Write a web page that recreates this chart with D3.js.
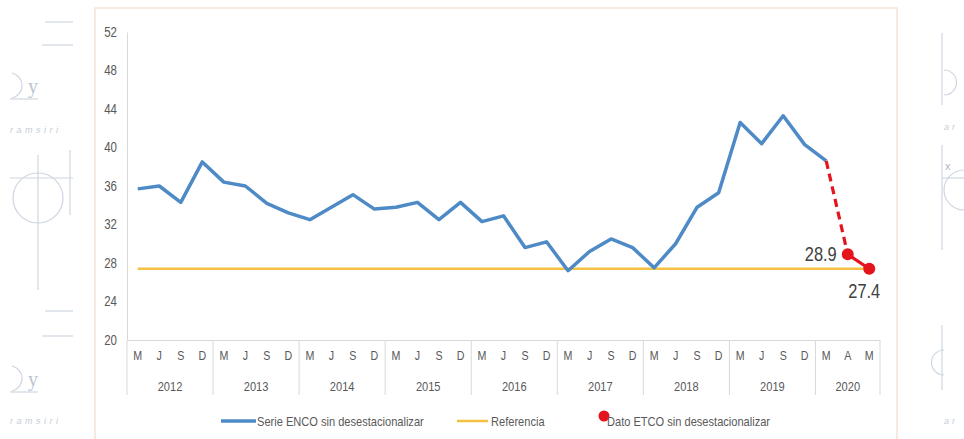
<!DOCTYPE html>
<html>
<head>
<meta charset="utf-8">
<script src="https://cdn.jsdelivr.net/npm/d3@7"></script>
<style>
  body { margin: 0; background: #ffffff; }
  svg { display: block; font-family: "Liberation Sans", Arial, sans-serif; }
</style>
</head>
<body>
<svg id="chart" width="964" height="439"></svg>
<script>
// chart data
var years = ["2012", "2013", "2014", "2015", "2016", "2017", "2018", "2019", "2020"];
var quarterLabels = ["M", "J", "S", "D"];
var lastYearLabels = ["M", "A", "M"];
// Serie ENCO sin desestacionalizar, 2012 M .. 2020 M
var encoValues = [35.7, 36.0, 34.3, 38.5,
                  36.4, 36.0, 34.2, 33.2,
                  32.5, 33.8, 35.1, 33.6,
                  33.8, 34.3, 32.5, 34.3,
                  32.3, 32.9, 29.6, 30.2,
                  27.2, 29.2, 30.5, 29.6,
                  27.5, 30.0, 33.8, 35.3,
                  42.6, 40.4, 43.3, 40.3,
                  38.6];
// Dato ETCO sin desestacionalizar, 2020 A and 2020 M
var etcoValues = [28.9, 27.4];
var referenceValue = 27.4;
var yTicks = [20, 24, 28, 32, 36, 40, 44, 48, 52];
var legendNames = ["Serie ENCO sin desestacionalizar", "Referencia", "Dato ETCO sin desestacionalizar"];

var colours = {
    enco: "#4d8ac6",
    ref: "#f4c142",
    etco: "#e5131b",
    axis: "#d9d9d9",
    text: "#595959"
};

// the original uses a narrow font, squeeze the glyphs a bit
function narrow(sel, k) {
    sel.each(function () {
        var len = this.getComputedTextLength();
        d3.select(this)
            .attr("textLength", len * (k || 0.82))
            .attr("lengthAdjust", "spacingAndGlyphs");
    });
}

// build the category list (one per quarter, year groups underneath)
var categories = [];
years.forEach(function (yr) {
    var labels = yr === "2020" ? lastYearLabels : quarterLabels;
    labels.forEach(function (l) {
        categories.push({ year: yr, label: l });
    });
});

var svg = d3.select("#chart");

// faint background sketches around the chart box
var deco = svg.append("g")
    .attr("stroke", "#c3ccdb")
    .attr("fill", "none")
    .attr("stroke-width", 1.2)
    .attr("opacity", 0.8);

[[45, 22], [42, 45], [45, 311], [42, 336]].forEach(function (p) {
    deco.append("line").attr("x1", p[0]).attr("x2", 73).attr("y1", p[1]).attr("y2", p[1]);
});
[85, 378].forEach(function (cy) {
    deco.append("path").attr("d", "M12," + (cy - 12) + " A14,13 0 0 1 12," + (cy + 13));
    deco.append("line").attr("x1", 10).attr("x2", 38).attr("y1", cy + 14).attr("y2", cy + 14);
    deco.append("text").attr("x", 28).attr("y", cy + 8).attr("stroke", "none")
        .attr("fill", "#aab5c8").style("font-family", "Liberation Serif, serif")
        .style("font-size", "20px").text("y");
});
[130, 421].forEach(function (ty) {
    deco.append("text").attr("x", 10).attr("y", ty + 3).attr("stroke", "none")
        .attr("fill", "#b5bfd0").style("font-style", "italic")
        .style("font-size", "9px").style("letter-spacing", "3.5px").text("ramsiri");
});
deco.append("circle").attr("cx", 38).attr("cy", 198).attr("r", 25);
deco.append("line").attr("x1", 10).attr("x2", 73).attr("y1", 178).attr("y2", 178);
deco.append("line").attr("x1", 38).attr("x2", 38).attr("y1", 155).attr("y2", 290);
deco.append("line").attr("x1", 70).attr("x2", 70).attr("y1", 150).attr("y2", 215);
// right edge
deco.append("line").attr("x1", 942).attr("x2", 942).attr("y1", 33).attr("y2", 105);
deco.append("path").attr("d", "M944,70 A12,12 0 1 1 944,95");
deco.append("line").attr("x1", 942).attr("x2", 942).attr("y1", 145).attr("y2", 250);
deco.append("line").attr("x1", 942).attr("x2", 964).attr("y1", 178).attr("y2", 178);
deco.append("path").attr("d", "M964,170 A18,18 0 0 0 964,210");
deco.append("line").attr("x1", 942).attr("x2", 942).attr("y1", 325).attr("y2", 390);
deco.append("path").attr("d", "M944,350 A12,12 0 1 0 944,375");
[127, 421].forEach(function (ty) {
    deco.append("text").attr("x", 944).attr("y", ty + 3).attr("stroke", "none")
        .attr("fill", "#b5bfd0").style("font-style", "italic")
        .style("font-size", "9px").style("letter-spacing", "3px").text("ar");
});
deco.append("text").attr("x", 945).attr("y", 170).attr("stroke", "none")
    .attr("fill", "#9aa6ba").style("font-size", "11px").text("x");

// chart box
svg.append("rect")
    .attr("x", 95).attr("y", 8)
    .attr("width", 802).attr("height", 460)
    .attr("fill", "#ffffff")
    .attr("stroke", "#f3e2d7")
    .attr("stroke-width", 1.5);

// scales
var x = d3.scaleBand()
    .domain(d3.range(categories.length))
    .range([127, 880]);
var cx = function (i) { return x(i) + x.bandwidth() / 2; };

var y = d3.scaleLinear()
    .domain([20, 52])
    .range([340, 32]);

// y axis
var yAxis = svg.append("g")
    .attr("transform", "translate(127,0)")
    .call(d3.axisLeft(y).tickValues(yTicks).tickSize(0).tickPadding(10));
yAxis.select(".domain").attr("stroke", colours.axis);
yAxis.selectAll("text")
    .attr("fill", colours.text)
    .style("font-family", "Liberation Sans, sans-serif")
    .style("font-size", "14px")
    .call(narrow);

// x axis (quarter labels)
var xAxis = svg.append("g")
    .attr("transform", "translate(0,340)")
    .call(d3.axisBottom(x).tickSize(0).tickSizeOuter(0).tickPadding(11)
        .tickFormat(function (i) { return categories[i].label; }));
xAxis.select(".domain").attr("stroke", colours.axis);
xAxis.selectAll("text")
    .attr("fill", colours.text)
    .style("font-family", "Liberation Sans, sans-serif")
    .style("font-size", "13px")
    .call(narrow);

// year groups
var yearGroups = years.map(function (yr) {
    var idx = categories.map(function (c, i) { return c.year === yr ? i : -1; })
        .filter(function (i) { return i >= 0; });
    return { year: yr, start: idx[0], end: idx[idx.length - 1] };
});

svg.append("g").selectAll("line")
    .data(yearGroups.map(function (g) { return x(g.start); }).concat([x.range()[1]]))
    .enter().append("line")
    .attr("x1", function (d) { return d; })
    .attr("x2", function (d) { return d; })
    .attr("y1", 340)
    .attr("y2", 395)
    .attr("stroke", colours.axis);

svg.append("g").selectAll("text")
    .data(yearGroups)
    .enter().append("text")
    .attr("x", function (g) { return (x(g.start) + x(g.end) + x.bandwidth()) / 2; })
    .attr("y", 391)
    .attr("text-anchor", "middle")
    .attr("fill", colours.text)
    .style("font-size", "13.5px")
    .text(function (g) { return g.year; })
    .call(narrow);

// reference line
svg.append("line")
    .attr("x1", cx(0))
    .attr("x2", cx(categories.length - 1))
    .attr("y1", y(referenceValue))
    .attr("y2", y(referenceValue))
    .attr("stroke", colours.ref)
    .attr("stroke-width", 2.5);

// ENCO line
var line = d3.line()
    .x(function (d) { return cx(d[0]); })
    .y(function (d) { return y(d[1]); });

svg.append("path")
    .datum(encoValues.map(function (v, i) { return [i, v]; }))
    .attr("d", line)
    .attr("fill", "none")
    .attr("stroke", colours.enco)
    .attr("stroke-width", 3.5)
    .attr("stroke-linejoin", "round");

// ETCO: dashed jump from last ENCO value, then solid
var lastEnco = encoValues.length - 1;
var etcoPoints = etcoValues.map(function (v, i) { return [lastEnco + 1 + i, v]; });

svg.append("path")
    .datum([[lastEnco, encoValues[lastEnco]], etcoPoints[0]])
    .attr("d", line)
    .attr("fill", "none")
    .attr("stroke", colours.etco)
    .attr("stroke-width", 3.2)
    .attr("stroke-dasharray", "8,5");

svg.append("path")
    .datum(etcoPoints)
    .attr("d", line)
    .attr("fill", "none")
    .attr("stroke", colours.etco)
    .attr("stroke-width", 3.2);

svg.append("g").selectAll("circle")
    .data(etcoPoints)
    .enter().append("circle")
    .attr("cx", function (d) { return cx(d[0]); })
    .attr("cy", function (d) { return y(d[1]); })
    .attr("r", 6)
    .attr("fill", colours.etco);

// value labels
svg.append("text")
    .attr("x", cx(etcoPoints[0][0]) - 11)
    .attr("y", y(etcoPoints[0][1]))
    .attr("dy", "0.35em")
    .attr("text-anchor", "end")
    .attr("fill", "#404040")
    .style("font-size", "20px")
    .text(etcoPoints[0][1].toFixed(1))
    .call(narrow);

svg.append("text")
    .attr("x", cx(etcoPoints[1][0]) - 5)
    .attr("y", y(etcoPoints[1][1]) + 29)
    .attr("text-anchor", "middle")
    .attr("fill", "#404040")
    .style("font-size", "20px")
    .text(etcoPoints[1][1].toFixed(1))
    .call(narrow);

// legend
var legend = svg.append("g").attr("class", "legend");

legend.append("line")
    .attr("x1", 221).attr("x2", 256).attr("y1", 421).attr("y2", 421)
    .attr("stroke", colours.enco).attr("stroke-width", 3.5);
legend.append("line")
    .attr("x1", 457).attr("x2", 488).attr("y1", 421).attr("y2", 421)
    .attr("stroke", colours.ref).attr("stroke-width", 2.5);
legend.append("circle")
    .attr("cx", 604).attr("cy", 416).attr("r", 5.5)
    .attr("fill", colours.etco);

legend.selectAll("text")
    .data(legendNames)
    .enter().append("text")
    .attr("x", function (d, i) { return [257, 491, 607][i]; })
    .attr("y", 421)
    .attr("dy", "0.35em")
    .attr("fill", colours.text)
    .style("font-size", "13.5px")
    .text(function (d) { return d; })
    .call(narrow);
</script>
</body>
</html>
